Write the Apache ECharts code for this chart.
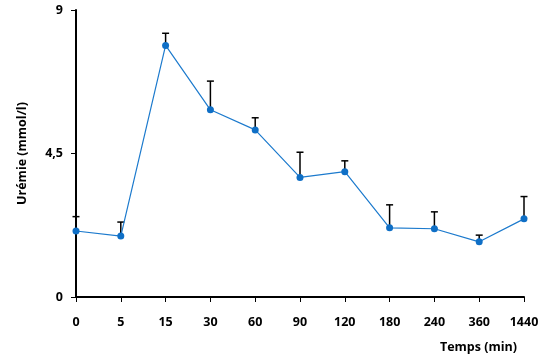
<!DOCTYPE html>
<html><head><meta charset="utf-8">
<script src="https://cdn.jsdelivr.net/npm/echarts@6/dist/echarts.min.js"></script>
<style>html,body{margin:0;padding:0;background:#fff}#c{width:548px;height:360px}</style>
</head><body><div id="c"></div>
<script>
var categories = ['0','5','15','30','60','90','120','180','240','360','1440'];
var means = [2.07, 1.91, 7.89, 5.87, 5.24, 3.75, 3.93, 2.17, 2.14, 1.73, 2.45];
var upper = [2.52, 2.35, 8.27, 6.77, 5.62, 4.54, 4.27, 2.89, 2.67, 1.94, 3.15];
var yTicks = [0, 4.5, 9];

var font = '"Open Sans", Lato, sans-serif';
var chart = echarts.init(document.getElementById('c'));
var errData = categories.map(function(c, i){ return [i, means[i], upper[i]]; });
chart.setOption({
  animation: false,
  grid: {left: 76, right: 24, top: 10, bottom: 63},
  xAxis: {
    type: 'category', data: categories, boundaryGap: false,
    axisLine: {lineStyle: {color: '#000', width: 2}},
    axisTick: {show: true, length: 5, lineStyle: {color: '#000', width: 1}},
    axisLabel: {color: '#000', fontWeight: 'bold', fontSize: 12.5, fontFamily: font, margin: 19}
  },
  yAxis: {
    type: 'value', min: 0, max: 9, interval: 4.5,
    name: 'Urémie (mmol/l)', nameLocation: 'middle', nameGap: 47,
    nameTextStyle: {color: '#000', fontWeight: 'bold', fontSize: 12.5, fontFamily: font},
    axisLine: {show: true, lineStyle: {color: '#000', width: 2}},
    axisTick: {show: true, length: 5, lineStyle: {color: '#000', width: 1}},
    splitLine: {show: false},
    axisLabel: {color: '#000', fontWeight: 'bold', fontSize: 12.5, fontFamily: font, margin: 13,
      formatter: function(v){ return yTicks.indexOf(v) >= 0 ? String(v).replace('.', ',') : ''; }}
  },
  graphic: [{
    type: 'text', right: 31, top: 341,
    style: {text: 'Temps (min)', fill: '#000', font: 'bold 12.5px ' + font}
  }],
  series: [{
    type: 'custom', z: 1,
    renderItem: function(params, api){
      var lo = api.coord([api.value(0), api.value(1)]);
      var hi = api.coord([api.value(0), api.value(2)]);
      var s = {stroke: '#000', lineWidth: 1.5};
      return {type: 'group', children: [
        {type: 'line', shape: {x1: lo[0], y1: lo[1], x2: hi[0], y2: hi[1]}, style: s},
        {type: 'line', shape: {x1: hi[0]-3.5, y1: hi[1], x2: hi[0]+3.5, y2: hi[1]}, style: s}
      ]};
    },
    encode: {x: 0, y: [1, 2]},
    data: errData
  }, {
    type: 'line', z: 2, data: means,
    symbol: 'circle', symbolSize: 7,
    lineStyle: {color: '#1C7ACD', width: 1.2},
    itemStyle: {color: '#0F6FC6'}
  }]
});
</script></body></html>
